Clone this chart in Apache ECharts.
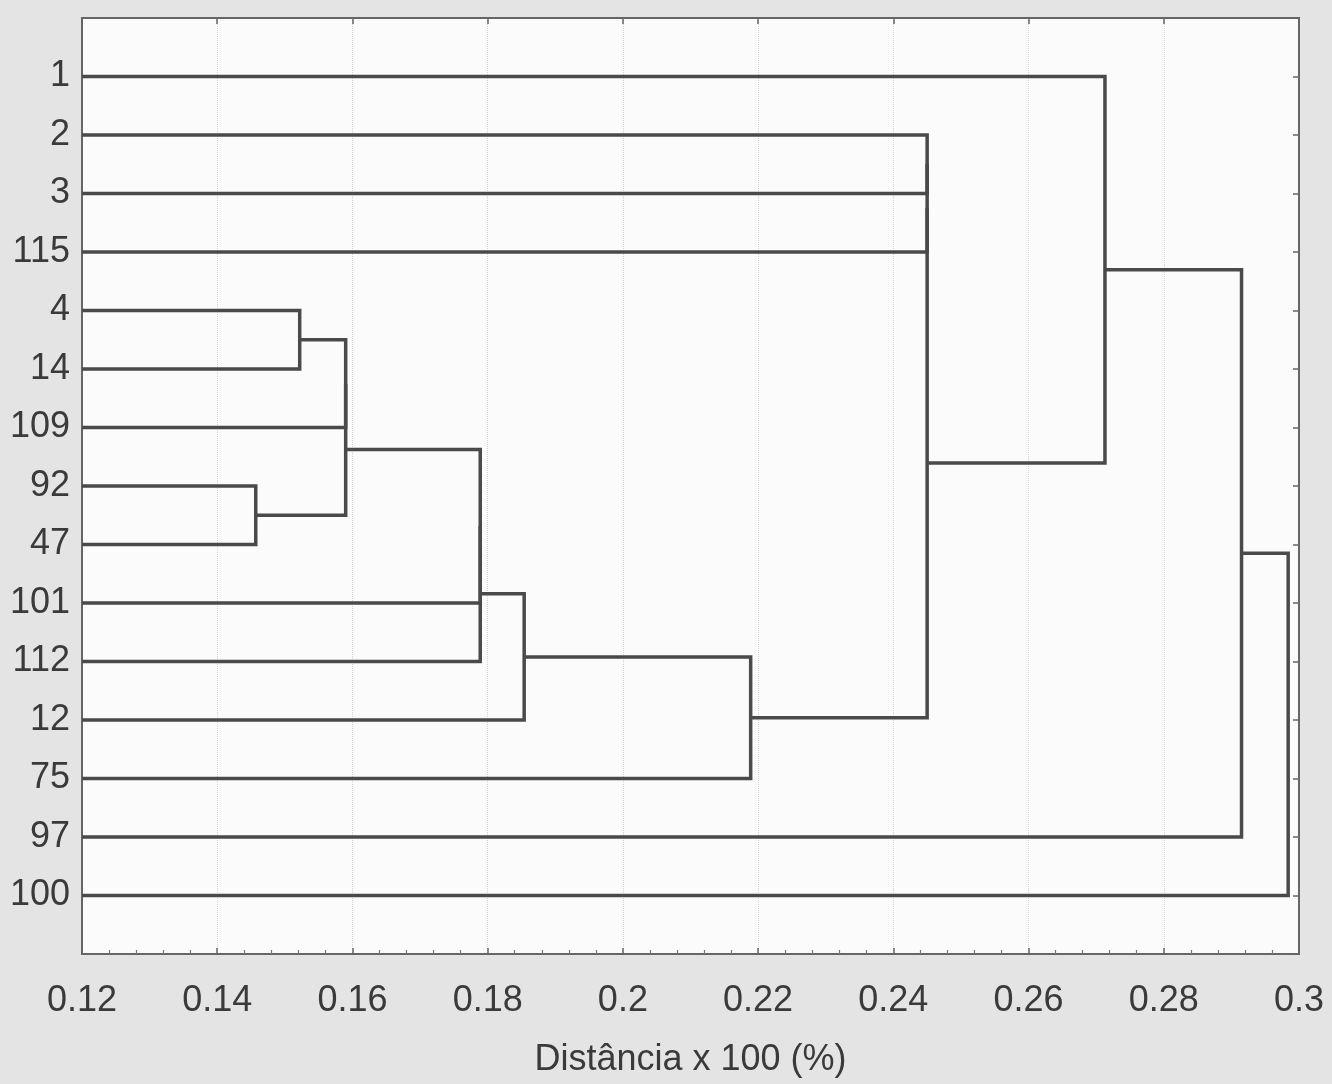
<!DOCTYPE html>
<html>
<head>
<meta charset="utf-8">
<script src="https://cdn.jsdelivr.net/npm/echarts@6/dist/echarts.min.js"></script>
<style>
html,body{margin:0;padding:0;background:#e4e4e4;}
#c{width:1332px;height:1084px;}
</style>
</head>
<body>
<div id="c"></div>
<script>
// Leaf labels, top to bottom
var leafLabels = ['1','2','3','115','4','14','109','92','47','101','112','12','75','97','100'];
// Merges: [child a, child b, distance]; ids 0..14 are leaves, 15+ are merge nodes in order
var mergeA = [4, 7, 15, 17, 18, 19, 20, 21, 1, 23, 24, 0, 26, 27];
var mergeB = [5, 8, 6, 16, 9, 10, 11, 12, 2, 3, 22, 25, 13, 14];
var mergeH = [0.1522, 0.1457, 0.159, 0.159, 0.1789, 0.1789, 0.1854, 0.2189, 0.245, 0.245, 0.245, 0.2713, 0.2915, 0.2984];
// Axis
var xMin = 0.12, xMax = 0.30, xStep = 0.02;
var axisName = 'Distância x 100 (%)';

var FONT = "'Liberation Sans Narrow','Arial Narrow','Liberation Sans',Arial,sans-serif";
var n = leafLabels.length;
var posY = [], posH = [];
for (var i = 0; i < n; i++) { posY.push(i); posH.push(xMin); }
var segs = [];
for (var k = 0; k < mergeA.length; k++) {
  var a = mergeA[k], b = mergeB[k], h = mergeH[k];
  segs.push([posH[a], posY[a], h, posY[b], posH[b]]);
  posY.push((posY[a] + posY[b]) / 2);
  posH.push(h);
}

var chart = echarts.init(document.getElementById('c'));
var lineColor = '#4a4a4a';
var frameColor = '#666';
chart.setOption({
  backgroundColor: '#e4e4e4',
  animation: false,
  grid: {left: 82, right: 33, top: 18, bottom: 130, show: true, backgroundColor: '#fbfbfb',
    borderColor: frameColor, borderWidth: 2, outerBoundsMode: 'none', containLabel: false},
  xAxis: [{
    type: 'value', min: xMin, max: xMax, interval: xStep, position: 'bottom',
    name: axisName, nameLocation: 'middle', nameGap: 88,
    nameTextStyle: {fontFamily: FONT, fontSize: 36, color: '#3a3a3a'},
    axisLine: {show: true, onZero: false, lineStyle: {color: frameColor, width: 2}},
    axisTick: {show: true, inside: true, length: 6, lineStyle: {color: frameColor, width: 1.5}},
    minorTick: {show: true, splitNumber: 5, length: 4, lineStyle: {color: '#777', width: 1.2}},
    splitLine: {show: true, lineStyle: {color: '#d4d4d4', width: 1, type: 'dotted'}},
    axisLabel: {margin: 29, fontFamily: FONT, fontSize: 36, color: '#3a3a3a',
      formatter: function (v) { return String(parseFloat(v.toFixed(2))); }}
  }, {
    type: 'value', min: xMin, max: xMax, interval: xStep, position: 'top',
    axisLine: {show: true, onZero: false, lineStyle: {color: frameColor, width: 2}},
    axisTick: {show: true, inside: true, length: 6, lineStyle: {color: frameColor, width: 1.5}},
    axisLabel: {show: false}, splitLine: {show: false}
  }],
  yAxis: [{
    type: 'value', inverse: true, min: -1, max: n, interval: 1, position: 'left',
    axisLine: {show: true, onZero: false, lineStyle: {color: frameColor, width: 2}},
    axisTick: {show: true, inside: true, length: 6, lineStyle: {color: frameColor, width: 1.5}},
    splitLine: {show: false},
    axisLabel: {margin: 12, fontFamily: FONT, fontSize: 36, color: '#3a3a3a',
      formatter: function (v) { return leafLabels[v] !== undefined ? leafLabels[v] : ''; }}
  }, {
    type: 'value', inverse: true, min: -1, max: n, interval: 1, position: 'right',
    axisLine: {show: true, onZero: false, lineStyle: {color: frameColor, width: 2}},
    axisTick: {show: true, inside: true, length: 6, lineStyle: {color: frameColor, width: 1.5}},
    axisLabel: {show: false}, splitLine: {show: false}
  }],
  series: [{
    type: 'custom',
    xAxisIndex: 0, yAxisIndex: 0,
    data: segs,
    encode: {x: [0, 2, 4], y: [1, 3]},
    renderItem: function (params, api) {
      var p1 = api.coord([api.value(0), api.value(1)]);
      var p2 = api.coord([api.value(2), api.value(1)]);
      var p3 = api.coord([api.value(2), api.value(3)]);
      var p4 = api.coord([api.value(4), api.value(3)]);
      return {type: 'polyline', shape: {points: [p1, p2, p3, p4]},
        style: {stroke: lineColor, lineWidth: 3.5, fill: null, lineJoin: 'miter'}};
    }
  }]
});
</script>
</body>
</html>
